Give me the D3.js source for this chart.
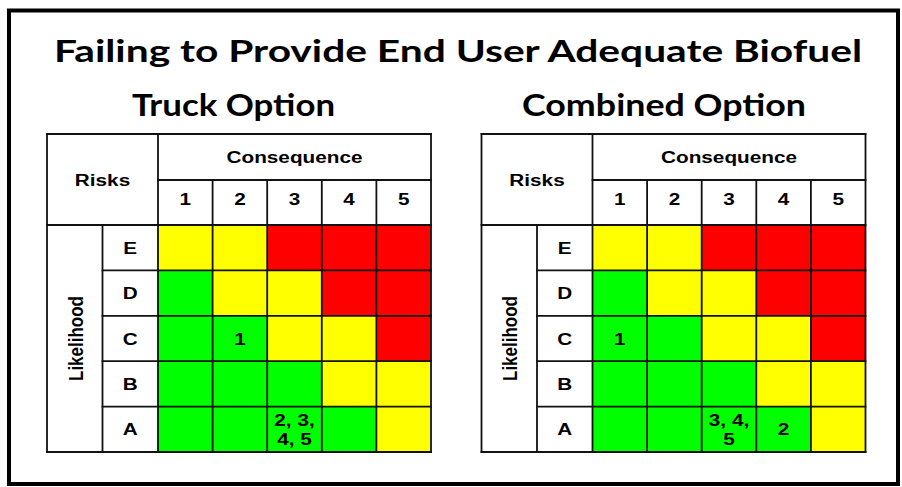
<!DOCTYPE html>
<html>
<head>
<meta charset="utf-8">
<script src="https://cdn.jsdelivr.net/npm/d3@7"></script>
<style>
  html, body { margin: 0; padding: 0; background: #fff; }
  svg { display: block; }
</style>
</head>
<body>
<svg id="chart" width="902" height="487"></svg>
<script>
// ---- data ----
const chartTitle = "Failing to Provide End User Adequate Biofuel";
const panelTitles = ["Truck Option", "Combined Option"];
const consequences = ["1", "2", "3", "4", "5"];
const likelihoods = ["E", "D", "C", "B", "A"];
// risk level per cell, rows E..A, columns 1..5 (L = low, M = medium, H = high)
const truckLevels = [
  ["M", "M", "H", "H", "H"],
  ["L", "M", "M", "H", "H"],
  ["L", "L", "M", "M", "H"],
  ["L", "L", "L", "M", "M"],
  ["L", "L", "L", "L", "M"]
];
const combinedLevels = [
  ["M", "M", "H", "H", "H"],
  ["L", "M", "M", "H", "H"],
  ["L", "L", "M", "M", "H"],
  ["L", "L", "L", "M", "M"],
  ["L", "L", "L", "L", "M"]
];
// risk numbers placed in cells
const truckRisks = [
  { likelihood: "C", consequence: "2", lines: ["1"] },
  { likelihood: "A", consequence: "3", lines: ["2, 3,", "4, 5"] }
];
const combinedRisks = [
  { likelihood: "C", consequence: "1", lines: ["1"] },
  { likelihood: "A", consequence: "3", lines: ["3, 4,", "5"] },
  { likelihood: "A", consequence: "4", lines: ["2"] }
];

// ---- styles ----
const levelColor = d3.scaleOrdinal().domain(["L", "M", "H"]).range(["#00FF00", "#FFFF00", "#FF0000"]);
const tableFont = "'Liberation Sans', Arial, sans-serif";
const titleFont = "Lato, 'Open Sans', sans-serif";
const fs = 17, sx = 1.22;
const lineColor = "#111";
const lw = 1.8;

const svg = d3.select("#chart");

// outer frame
svg.append("rect")
  .attr("x", 9).attr("y", 10.5).attr("width", 889).attr("height", 473.5)
  .attr("fill", "#fff").attr("stroke", "#000").attr("stroke-width", 4);

// main title
svg.append("text")
  .attr("x", 54).attr("y", 62.3)
  .attr("font-family", titleFont).attr("font-weight", 700).attr("font-size", 31)
  .attr("textLength", 808).attr("lengthAdjust", "spacingAndGlyphs")
  .text(chartTitle);

function label(g, x, y, str, rotate) {
  const tr = rotate
    ? `translate(${x},${y}) scale(${sx},1) rotate(-90)`
    : `translate(${x},${y}) scale(${sx},1)`;
  g.append("text")
    .attr("transform", tr)
    .attr("text-anchor", "middle")
    .attr("font-family", tableFont).attr("font-weight", 700).attr("font-size", fs)
    .attr("fill", "#000")
    .text(str);
}

function drawPanel(x0, titleX, titleLen, title, levels, risks) {
  const g = svg.append("g");
  const top = 134, headMid = 180, gridTop = 225, gridBottom = 452;
  const colA = x0, colB = x0 + 55.5, colC = x0 + 111, right = x0 + 384;

  // panel title
  svg.append("text")
    .attr("x", titleX).attr("y", 115.7)
    .attr("font-family", titleFont).attr("font-weight", 700).attr("font-size", 31)
    .attr("textLength", titleLen).attr("lengthAdjust", "spacingAndGlyphs")
    .text(title);

  const x = d3.scaleBand().domain(consequences).range([colC, right]);
  const y = d3.scaleBand().domain(likelihoods).range([gridTop, gridBottom]);

  // cells
  const cells = [];
  likelihoods.forEach((l, i) => consequences.forEach((c, j) => cells.push({ l, c, level: levels[i][j] })));
  g.selectAll("rect.cell").data(cells).join("rect")
    .attr("class", "cell")
    .attr("x", d => x(d.c)).attr("y", d => y(d.l))
    .attr("width", x.bandwidth()).attr("height", y.bandwidth())
    .attr("fill", d => levelColor(d.level));

  // grid lines
  const lines = [];
  // horizontals
  lines.push([colA, top, right, top]);
  lines.push([colC, headMid, right, headMid]);
  likelihoods.forEach(l => lines.push([colB, y(l), right, y(l)]));
  lines.push([colA, gridTop, colB, gridTop]);
  lines.push([colA, gridBottom, right, gridBottom]);
  // verticals
  lines.push([colA, top, colA, gridBottom]);
  lines.push([colB, gridTop, colB, gridBottom]);
  lines.push([colC, top, colC, gridBottom]);
  consequences.forEach((c, j) => { if (j > 0) lines.push([x(c), headMid, x(c), gridBottom]); });
  lines.push([right, top, right, gridBottom]);
  g.selectAll("line.grid").data(lines).join("line")
    .attr("class", "grid")
    .attr("x1", d => d[0]).attr("y1", d => d[1]).attr("x2", d => d[2]).attr("y2", d => d[3])
    .attr("stroke", lineColor).attr("stroke-width", lw).attr("stroke-linecap", "square");

  // header labels
  label(g, (colC + right) / 2, 163.3, "Consequence");
  label(g, (colA + colC) / 2, 185.5, "Risks");
  consequences.forEach(c => label(g, x(c) + x.bandwidth() / 2, 205, c));
  likelihoods.forEach(l => label(g, (colB + colC) / 2, y(l) + y.bandwidth() / 2 + 6, l));
  label(g, colA + 35.5, (gridTop + gridBottom) / 2, "Likelihood", true);

  // risk numbers
  risks.forEach(r => {
    const cx = x(r.consequence) + x.bandwidth() / 2;
    const cy = y(r.likelihood) + y.bandwidth() / 2 + 6;
    const n = r.lines.length;
    r.lines.forEach((t, k) => label(g, cx, cy + (k - (n - 1) / 2) * 19, t));
  });
}

drawPanel(47, 132, 203, panelTitles[0], truckLevels, truckRisks);
drawPanel(481.5, 522, 284, panelTitles[1], combinedLevels, combinedRisks);
</script>
</body>
</html>
